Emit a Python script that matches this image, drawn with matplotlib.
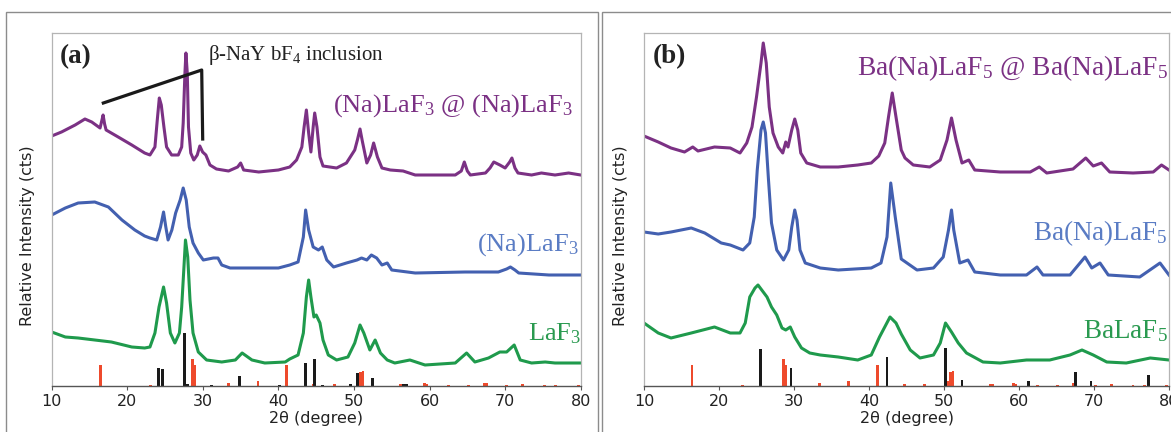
import matplotlib
matplotlib.use('Agg')
import matplotlib.pyplot as plt
from matplotlib.patches import Rectangle

plt.rcParams['font.family'] = 'DejaVu Sans'
plt.rcParams['mathtext.fontset'] = 'custom'
plt.rcParams['mathtext.rm'] = 'Liberation Serif'
plt.rcParams['mathtext.it'] = 'Liberation Serif:italic'
plt.rcParams['mathtext.bf'] = 'Liberation Serif:bold'

# ---- panel (a) patterns: 2theta, relative intensity (offset) ----
a_core_x = [10, 11.3, 13.1, 14.4, 15.3, 16.4, 16.65, 16.8, 17.0, 17.2, 18.8, 20.6, 22.3, 23.0,
            23.66, 23.97, 24.24, 24.5, 24.85, 25.2, 25.87, 26.75, 27.2, 27.4, 27.63, 27.76,
            27.94, 28.1, 28.4, 28.8, 29.26, 29.6, 29.97, 30.4, 30.94, 31.8, 33.4, 34.6, 35.0,
            35.4, 37.4, 40.0, 41.5, 42.4, 43.1, 43.4, 43.7, 44.0, 44.3, 44.6, 44.8, 45.1, 45.5,
            45.9, 47.7, 49.0, 50.1, 50.45, 50.8, 51.1, 51.7, 52.2, 52.6, 53.1, 53.7, 54.8, 56.5,
            58.1, 63.4, 64.2, 64.6, 65.0, 65.4, 67.4, 68.0, 68.5, 69.3, 70.0, 70.6, 70.9, 71.3,
            71.7, 73.5, 74.8, 76.6, 78.4, 80]
a_core_y = [250, 254, 261, 267, 264, 258, 266, 271, 262, 256, 249, 241, 233, 231,
            239, 266, 288, 281, 259, 239, 231, 231, 239, 263, 313, 333,
            313, 259, 233, 226, 231, 240, 234, 231, 221, 217, 215, 219, 223,
            216, 214, 216, 219, 226, 239, 259, 276, 253, 234, 259, 273, 259, 229,
            220, 218, 223, 236, 246, 257, 245, 223, 231, 243, 229, 218, 216, 215,
            211, 211, 215, 224, 215, 211, 213, 218, 224, 221, 218, 224, 228, 218,
            213, 211, 213, 211, 213, 211]

a_na_x = [10, 11.8, 13.5, 15.7, 17.5, 19.3, 21.0, 22.3, 23.0, 23.9, 24.4, 24.8, 25.1, 25.4,
          25.9, 26.4, 27.0, 27.4, 27.8, 28.2, 28.7, 29.4, 30.06, 31.4, 32.0, 32.5, 33.6, 35.6,
          40.0, 41.5, 42.6, 43.3, 43.6, 44.0, 44.6, 45.3, 45.8, 46.4, 47.3, 49.0, 50.4, 51.0,
          51.7, 52.3, 53.0, 53.7, 54.4, 55.0, 58.1, 64.7, 69.1, 70.2, 70.7, 71.3, 71.8, 75.8, 80]
a_na_y = [171, 178, 183, 184, 179, 166, 156, 150, 148, 146, 159, 174, 159, 146,
          156, 173, 186, 198, 186, 159, 143, 133, 126, 128, 128, 121, 118, 118,
          118, 121, 124, 149, 176, 156, 139, 136, 139, 126, 119, 123, 126, 128,
          126, 131, 128, 121, 123, 116, 113, 114, 114, 117, 119, 116, 113, 111, 111]

a_la_x = [10, 11.8, 13.5, 17.9, 20.6, 22.3, 23.0, 23.66, 24.2, 24.8, 25.2, 25.7, 26.3, 26.9,
          27.2, 27.5, 27.7, 28.0, 28.3, 28.7, 29.4, 30.5, 32.5, 34.3, 35.2, 36.5, 38.2, 40.9,
          41.5, 42.6, 43.3, 43.7, 44.0, 44.3, 44.7, 45.0, 45.5, 45.9, 46.6, 47.7, 49.2, 50.1,
          50.8, 51.3, 52.1, 52.8, 53.5, 54.4, 55.4, 57.4, 59.4, 63.4, 64.9, 66.0, 67.8, 69.3,
          70.2, 71.2, 72.0, 73.5, 75.3, 76.6, 80]
a_la_y = [54, 49, 48, 44, 39, 38, 39, 53, 79, 99, 83, 53, 43, 53,
          79, 119, 146, 129, 86, 53, 34, 26, 24, 26, 33, 26, 23, 24,
          27, 31, 53, 89, 106, 89, 69, 71, 63, 46, 31, 26, 29, 43,
          61, 53, 36, 46, 33, 26, 23, 26, 21, 23, 33, 24, 28, 34,
          34, 41, 26, 23, 24, 23, 23]

# ---- panel (b) patterns ----
b_core_x = [10, 11.9, 13.6, 15.4, 16.5, 17.2, 19.4, 21.5, 22.8, 23.7, 24.4, 25.0, 25.6, 25.9,
            26.3, 26.7, 27.2, 27.9, 28.5, 28.9, 29.2, 29.7, 30.1, 30.5, 30.9, 31.7, 33.5, 35.9,
            38.5, 40.3, 41.3, 42.1, 42.6, 43.1, 43.6, 44.3, 44.8, 45.9, 48.1, 49.5, 50.4, 51.0,
            51.6, 52.4, 53.3, 54.1, 57.5, 61.5, 62.7, 63.7, 67.2, 68.9, 69.9, 71.0, 72.1, 75.2,
            77.9, 79.0, 80]
b_core_y = [250, 244, 238, 234, 239, 235, 239, 238, 233, 243, 259, 289, 323, 343,
            323, 279, 253, 239, 233, 244, 239, 256, 267, 256, 233, 223, 219, 219,
            221, 223, 230, 243, 269, 293, 269, 236, 228, 221, 219, 226, 246, 268,
            246, 223, 226, 216, 214, 214, 219, 213, 217, 228, 220, 223, 214, 213,
            214, 221, 216]

b_na_x = [10, 11.9, 13.6, 16.3, 18.1, 20.3, 21.5, 23.2, 24.1, 24.7, 25.1, 25.6, 25.9, 26.2,
          26.6, 27.0, 27.7, 28.6, 29.3, 29.7, 30.1, 30.4, 30.8, 31.5, 33.5, 35.9, 40.3, 41.6,
          42.4, 42.9, 43.5, 44.3, 46.4, 48.6, 49.9, 50.6, 51.0, 51.3, 52.1, 53.2, 54.1, 57.5,
          61.0, 62.4, 63.2, 66.8, 68.8, 69.7, 70.8, 71.9, 76.1, 78.8, 80]
b_na_y = [154, 152, 154, 158, 153, 143, 141, 136, 143, 169, 216, 256, 264, 253,
          206, 163, 136, 126, 136, 159, 176, 166, 136, 123, 118, 116, 118, 123,
          149, 203, 169, 127, 116, 118, 129, 156, 176, 156, 123, 126, 114, 111,
          111, 119, 111, 111, 129, 118, 123, 111, 109, 123, 111]

b_ba_x = [10, 11.9, 13.6, 16.3, 19.4, 21.5, 22.8, 23.5, 24.1, 24.8, 25.2, 25.7, 26.4, 27.0,
          27.7, 28.4, 28.9, 29.5, 30.1, 31.0, 32.1, 33.5, 35.9, 38.5, 40.3, 41.4, 42.8, 43.6,
          44.3, 45.5, 46.8, 48.6, 49.5, 50.2, 51.0, 51.9, 53.0, 55.2, 57.5, 61.0, 64.1, 66.8,
          68.4, 69.9, 71.7, 74.3, 77.5, 80]
b_ba_y = [63, 53, 48, 53, 59, 53, 53, 63, 89, 98, 101, 96, 89, 79,
          71, 58, 56, 59, 49, 38, 33, 31, 29, 26, 31, 49, 69, 63,
          52, 36, 28, 31, 43, 63, 54, 43, 33, 24, 23, 26, 26, 31,
          36, 31, 24, 23, 28, 26]

# ---- reference sticks ----
ref_red_x = [16.4, 23.1, 28.6, 28.85, 33.4, 37.3, 41.1, 44.7, 47.4, 50.6, 50.9, 51.2,
             56.2, 56.5, 59.3, 59.6, 62.5, 65.1, 67.3, 67.6, 70.2, 72.3, 75.2, 76.7, 79.7]
ref_red_y = [21, 1, 27, 21, 3, 5, 21, 2, 2.5, 5, 14, 15,
             2, 2, 3, 2, 1, 1, 3, 3, 1, 2, 1, 1, 1]

a_ref_x = [24.1, 24.7, 27.6, 28.0, 31.2, 34.8, 40.2, 43.6, 44.8, 45.8, 49.5, 50.5, 52.5, 56.6, 57.0]
a_ref_y = [18, 17, 53, 2, 1, 10, 1, 23, 27, 1, 2, 13, 8, 2, 2]

b_ref_x = [25.5, 29.6, 42.4, 50.2, 52.4, 61.3, 67.5, 69.6, 77.3]
b_ref_y = [37, 18, 29, 38, 6, 5, 14, 5, 11]

PURPLE = '#7b3184'
BLUE = '#4360b0'
GREEN = '#1f9a4c'
RED = '#ee4a2c'

W, H = 1171, 432
fig = plt.figure(figsize=(W / 100, H / 100), dpi=100)

# outer panel frames
for left, width in [(6, 592), (602, 600)]:
    fig.patches.append(Rectangle((left / W, -0.05), width / W, (H - 12) / H + 0.05,
                                 transform=fig.transFigure, fill=False,
                                 edgecolor='#8c8c8c', lw=1.0))


def setup(ax):
    ax.set_xlim(10, 80)
    ax.set_ylim(0, 353)
    ax.set_xticks(range(10, 81, 10))
    ax.set_yticks([])
    for s in ['left', 'top', 'right']:
        ax.spines[s].set_color('#b4b4b4')
        ax.spines[s].set_linewidth(0.9)
    ax.spines['bottom'].set_color('#555555')
    ax.spines['bottom'].set_linewidth(1.0)
    ax.tick_params(axis='x', direction='out', length=3, color='#555555',
                   labelsize=11.5, labelcolor='#222222', pad=3)
    ax.set_xlabel('2θ (degree)', fontsize=11.5, color='#222222', labelpad=1)
    ax.set_ylabel('Relative Intensity (cts)', fontsize=11.5, color='#222222')
    ax.yaxis.set_label_coords(-0.031, 0.425)


serif = 'Liberation Serif'

axa = fig.add_axes([51.7 / W, (H - 386) / H, 529 / W, 353 / H])
setup(axa)
axa.bar(ref_red_x, ref_red_y, width=0.38, color=RED, zorder=1)
axa.bar(a_ref_x, a_ref_y, width=0.38, color='#1a1a1a', zorder=1)
axa.plot(a_core_x, a_core_y, color=PURPLE, lw=2.2, zorder=2)
axa.plot(a_na_x, a_na_y, color=BLUE, lw=2.2, zorder=2)
axa.plot(a_la_x, a_la_y, color=GREEN, lw=2.2, zorder=2)
axa.plot([16.83, 29.85, 29.98], [283, 316, 247], color='#1a1a1a', lw=2.3, zorder=3)

axa.text(0.0157, 0.915, '(a)', transform=axa.transAxes, fontsize=19.5,
         fontweight='bold', family=serif, color='#222222', va='baseline')
axa.text(0.2955, 0.9235, r'β-NaY bF$_\mathrm{4}$ inclusion', transform=axa.transAxes,
         fontsize=15, family=serif, color='#222222', va='baseline')
axa.text(0.9855, 0.776, r'(Na)LaF$_\mathrm{3}$ @ (Na)LaF$_\mathrm{3}$', transform=axa.transAxes,
         fontsize=19, family=serif, color=PURPLE, ha='right', va='baseline')
axa.text(0.9966, 0.385, r'(Na)LaF$_\mathrm{3}$', transform=axa.transAxes,
         fontsize=19, family=serif, color='#5a7cc4', ha='right', va='baseline')
axa.text(1.0, 0.130, r'LaF$_\mathrm{3}$', transform=axa.transAxes,
         fontsize=19, family=serif, color='#2a9a50', ha='right', va='baseline')

axb = fig.add_axes([644 / W, (H - 386) / H, 525 / W, 353 / H])
setup(axb)
axb.bar(ref_red_x, ref_red_y, width=0.38, color=RED, zorder=1)
axb.bar(b_ref_x, b_ref_y, width=0.38, color='#1a1a1a', zorder=1)
axb.plot(b_core_x, b_core_y, color=PURPLE, lw=2.2, zorder=2)
axb.plot(b_na_x, b_na_y, color=BLUE, lw=2.2, zorder=2)
axb.plot(b_ba_x, b_ba_y, color=GREEN, lw=2.2, zorder=2)

axb.text(0.017, 0.915, '(b)', transform=axb.transAxes, fontsize=19.5,
         fontweight='bold', family=serif, color='#222222', va='baseline')
axb.text(0.998, 0.881, r'Ba(Na)LaF$_\mathrm{5}$ @ Ba(Na)LaF$_\mathrm{5}$', transform=axb.transAxes,
         fontsize=19.8, family=serif, color=PURPLE, ha='right', va='baseline')
axb.text(0.998, 0.4136, r'Ba(Na)LaF$_\mathrm{5}$', transform=axb.transAxes,
         fontsize=19.5, family=serif, color='#5a7cc4', ha='right', va='baseline')
axb.text(0.998, 0.136, r'BaLaF$_\mathrm{5}$', transform=axb.transAxes,
         fontsize=19.5, family=serif, color='#2a9a50', ha='right', va='baseline')

fig.savefig('out.png', dpi=100)
